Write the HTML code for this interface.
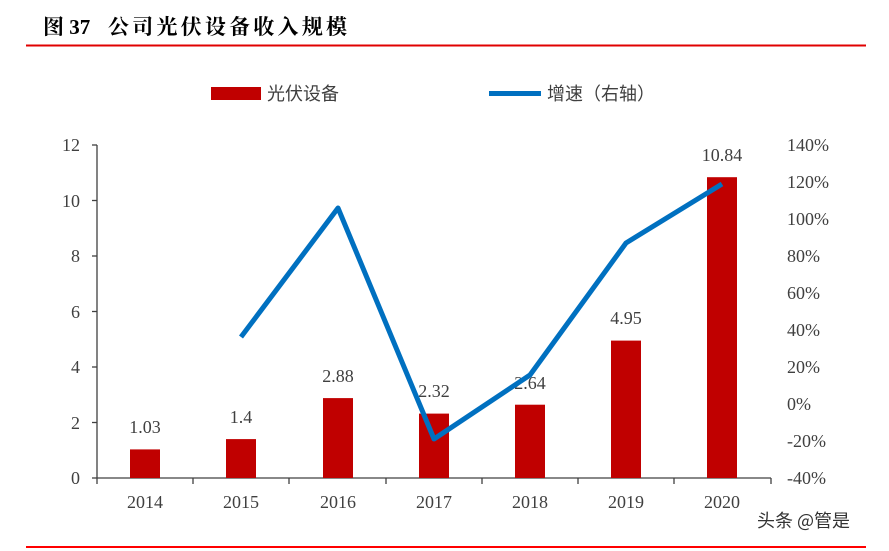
<!DOCTYPE html>
<html><head><meta charset="utf-8"><style>
body{margin:0;background:#fff;width:889px;height:551px;overflow:hidden}
svg{display:block}
</style></head><body>
<svg width="889" height="551" xmlns="http://www.w3.org/2000/svg" font-family="'Liberation Serif','Noto Serif CJK SC',serif">
<text x="43" y="34" font-size="21" font-weight="bold" fill="#000">图 37</text>
<text x="108" y="34" font-size="21" font-weight="bold" fill="#000" textLength="239" lengthAdjust="spacing">公司光伏设备收入规模</text>
<line x1="26" y1="45.5" x2="866" y2="45.5" stroke="#e00000" stroke-width="2"/>
<line x1="26" y1="547" x2="866" y2="547" stroke="#ff0000" stroke-width="2"/>
<rect x="211" y="87" width="50" height="13" fill="#c00000"/>
<text x="267" y="100" font-size="18" fill="#404040" font-family="'Noto Sans CJK SC',sans-serif">光伏设备</text>
<line x1="489" y1="93.5" x2="541" y2="93.5" stroke="#0070c0" stroke-width="5"/>
<text x="547" y="100" font-size="18" fill="#404040" font-family="'Noto Sans CJK SC',sans-serif">增速（右轴）</text>
<g stroke="#404040" stroke-width="1.3" fill="none">
<line x1="97" y1="145" x2="97" y2="478"/>
<line x1="97" y1="478" x2="771" y2="478"/>
<line x1="92" y1="145" x2="97" y2="145"/><line x1="92" y1="200.5" x2="97" y2="200.5"/><line x1="92" y1="256" x2="97" y2="256"/><line x1="92" y1="311.5" x2="97" y2="311.5"/><line x1="92" y1="367" x2="97" y2="367"/><line x1="92" y1="422.5" x2="97" y2="422.5"/><line x1="92" y1="478" x2="97" y2="478"/>
<line x1="97" y1="478" x2="97" y2="484"/><line x1="193" y1="478" x2="193" y2="484"/><line x1="289" y1="478" x2="289" y2="484"/><line x1="386" y1="478" x2="386" y2="484"/><line x1="482" y1="478" x2="482" y2="484"/><line x1="578" y1="478" x2="578" y2="484"/><line x1="674" y1="478" x2="674" y2="484"/><line x1="771" y1="478" x2="771" y2="484"/>
</g>
<g font-size="18" fill="#404040" text-anchor="end">
<text x="80" y="151">12</text><text x="80" y="207">10</text><text x="80" y="262">8</text><text x="80" y="318">6</text><text x="80" y="373">4</text><text x="80" y="429">2</text><text x="80" y="484">0</text>
</g>
<g font-size="18" fill="#404040" text-anchor="start">
<text x="787" y="151">140%</text><text x="787" y="188">120%</text><text x="787" y="225">100%</text><text x="787" y="262">80%</text><text x="787" y="299">60%</text><text x="787" y="336">40%</text><text x="787" y="373">20%</text><text x="787" y="410">0%</text><text x="787" y="447">-20%</text><text x="787" y="484">-40%</text>
</g>
<g font-size="18" fill="#404040" text-anchor="middle">
<text x="145" y="508">2014</text><text x="241" y="508">2015</text><text x="338" y="508">2016</text><text x="434" y="508">2017</text><text x="530" y="508">2018</text><text x="626" y="508">2019</text><text x="722" y="508">2020</text>
</g>
<g fill="#c00000">
<rect x="130" y="449.4" width="30" height="28.6"/>
<rect x="226" y="439.1" width="30" height="38.9"/>
<rect x="323" y="398.1" width="30" height="79.9"/>
<rect x="419" y="413.6" width="30" height="64.4"/>
<rect x="515" y="404.7" width="30" height="73.3"/>
<rect x="611" y="340.6" width="30" height="137.4"/>
<rect x="707" y="177.2" width="30" height="300.8"/>
</g>
<g font-size="18" fill="#404040" text-anchor="middle">
<text x="145" y="433">1.03</text><text x="241" y="423">1.4</text><text x="338" y="382">2.88</text><text x="434" y="397">2.32</text><text x="530" y="389">2.64</text><text x="626" y="324">4.95</text><text x="722" y="161">10.84</text>
</g>
<polyline points="241,337 338,208 434,439 530,375 626,243 722,184" fill="none" stroke="#0070c0" stroke-width="5" stroke-linejoin="round"/>
<text x="757" y="527" font-size="18" fill="#333" font-family="'Noto Sans CJK SC',sans-serif">头条 @管是</text>
</svg>
</body></html>
